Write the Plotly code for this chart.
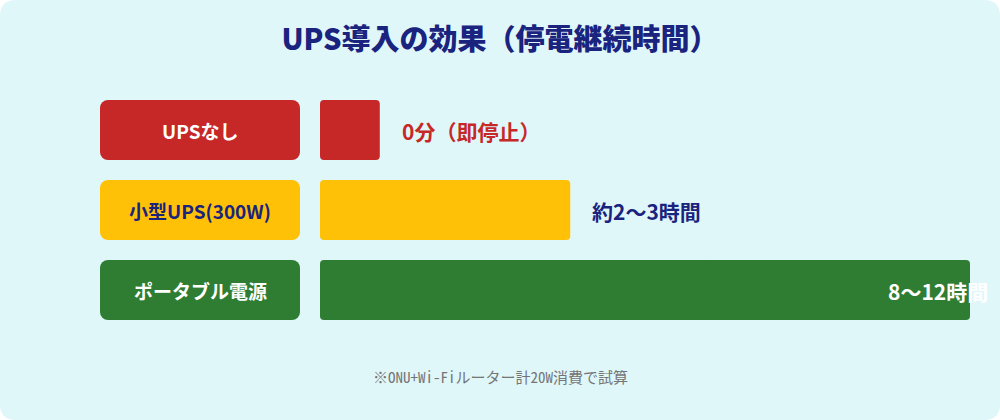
import plotly.graph_objects as go

# ---- data ----
categories = ["UPSなし", "小型UPS(300W)", "ポータブル電源"]
bar_lengths = [9.2, 38.5, 100]          # relative bar length (% of longest)
value_labels = ["0分（即停止）", "約2〜3時間", "8〜12時間"]
bar_colors = ["#c62828", "#ffc107", "#2e7d32"]
label_text_colors = ["#ffffff", "#1a237e", "#ffffff"]
value_text_colors = ["#c62828", "#1a237e", "#ffffff"]
title_text = "UPS導入の効果（停電継続時間）"
footnote_text = "※ONU+Wi-Fiルーター計20W消費で試算"

W, H = 1000, 420
FONT = "Noto Sans CJK JP, Noto Sans, sans-serif"
NAVY = "#1a237e"
CARD = "#e0f7fa"

fig = go.Figure()

# label boxes (left column): two overlapping halves so both ends get rounded corners
n = len(categories)
fig.add_trace(go.Bar(
    x=[0.6] * n, base=[-0.1] * n, y=categories, orientation="h",
    xaxis="x2", yaxis="y", width=0.75,
    marker=dict(color=bar_colors, cornerradius=8, line=dict(width=0)),
    hoverinfo="skip", showlegend=False,
))
fig.add_trace(go.Bar(
    x=[-0.6] * n, base=[0.1] * n, y=categories, orientation="h",
    xaxis="x2", yaxis="y", width=0.75,
    marker=dict(color=bar_colors, cornerradius=8, line=dict(width=0)),
    hoverinfo="skip", showlegend=False,
))

# value bars: two overlapping pieces so both ends are rounded
fig.add_trace(go.Bar(
    x=[0.6 * v for v in bar_lengths], base=[0.4 * v for v in bar_lengths],
    y=categories, orientation="h", xaxis="x", yaxis="y", width=0.75,
    marker=dict(color=bar_colors, cornerradius=4, line=dict(width=0)),
    hoverinfo="skip", showlegend=False,
))
fig.add_trace(go.Bar(
    x=[-0.6 * v for v in bar_lengths], base=[0.6 * v for v in bar_lengths],
    y=categories, orientation="h", xaxis="x", yaxis="y", width=0.75,
    marker=dict(color=bar_colors, cornerradius=4, line=dict(width=0)),
    hoverinfo="skip", showlegend=False,
))

annotations = []
for cat, col in zip(categories, label_text_colors):
    annotations.append(dict(
        x=0, y=cat, xref="x2", yref="y", text=f"<b>{cat}</b>",
        showarrow=False, xanchor="center", yanchor="middle",
        font=dict(family=FONT, size=19, color=col),
    ))

max_len = max(bar_lengths)
for cat, v, lab, col in zip(categories, bar_lengths, value_labels, value_text_colors):
    inside = v >= 0.9 * max_len
    annotations.append(dict(
        x=v, y=cat, xref="x", yref="y", text=f"<b>{lab}</b>",
        showarrow=False, xanchor="right" if inside else "left", yanchor="middle",
        xshift=20, yshift=-1,
        font=dict(family=FONT, size=21, color=col),
    ))

annotations.append(dict(
    x=0.5, y=1 - 376 / H, xref="paper", yref="paper", text=footnote_text,
    showarrow=False, xanchor="center", yanchor="middle",
    font=dict(family="Noto Sans Mono CJK JP, DejaVu Sans Mono, Noto Sans CJK JP", size=15, color="#757575"),
))

rx, ry = 16 / W, 16 / H
card_path = (f"M {rx},0 L {1-rx},0 Q 1,0 1,{ry} L 1,{1-ry} Q 1,1 {1-rx},1 "
             f"L {rx},1 Q 0,1 0,{1-ry} L 0,{ry} Q 0,0 {rx},0 Z")

fig.update_layout(
    width=W, height=H,
    margin=dict(l=0, r=0, t=0, b=0),
    paper_bgcolor="#ffffff",
    plot_bgcolor="rgba(0,0,0,0)",
    barmode="overlay",
    title=dict(text=title_text, x=0.5, xanchor="center",
               y=1 - 40 / H, yanchor="middle", yref="paper",
               font=dict(family=FONT, size=29, color=NAVY, weight=900)),
    xaxis=dict(domain=[0.32, 0.97], range=[0, 100], visible=False, fixedrange=True),
    xaxis2=dict(domain=[0.10, 0.30], range=[-0.5, 0.5], visible=False, anchor="y", fixedrange=True),
    yaxis=dict(domain=[(H - 330) / H, (H - 90) / H], type="category",
               autorange="reversed", visible=False, fixedrange=True),
    shapes=[dict(type="path", path=card_path, xref="paper", yref="paper",
                 fillcolor=CARD, line=dict(width=0), layer="below")],
    annotations=annotations,
    showlegend=False,
)

fig.write_html("out.html", config={"displayModeBar": False},
               post_script="document.body.style.margin='0';document.body.style.overflow='hidden';")
